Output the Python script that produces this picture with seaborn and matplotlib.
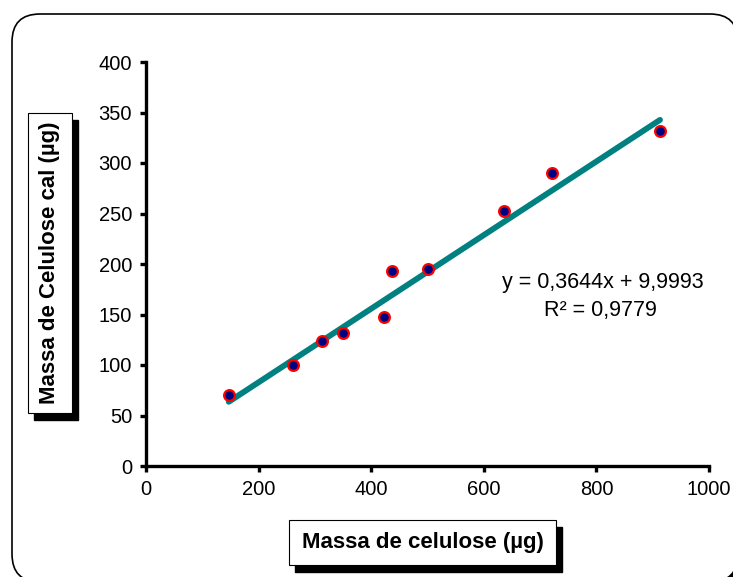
import numpy as np
import pandas as pd
import matplotlib
matplotlib.use("Agg")
import matplotlib.pyplot as plt
from matplotlib.patches import FancyBboxPatch, Rectangle
from matplotlib.transforms import IdentityTransform
import seaborn as sns

# ---- data ----
massa_celulose = [147, 261, 313, 350, 423, 437, 501, 636, 721, 913]
massa_calc = [70, 100, 124, 132, 148, 193, 195, 252, 290, 332]
slope = 0.3644
intercept = 9.9993
r2 = 0.9779
x_ticks = [0, 200, 400, 600, 800, 1000]
y_ticks = [0, 50, 100, 150, 200, 250, 300, 350, 400]
xlabel = "Massa de celulose (µg)"
ylabel = "Massa de Celulose cal (µg)"

sns.set_style("ticks")
plt.rcParams['font.family'] = ['Liberation Sans', 'DejaVu Sans']

W, H = 733, 577
fig = plt.figure(figsize=(W / 100, H / 100), dpi=100)
fig.patch.set_facecolor("white")

# rounded outer frame with shadow (pixel coords)
def px_patch(x, y_top, w, h, **kw):
    return FancyBboxPatch((x, H - y_top - h), w, h, transform=IdentityTransform(), **kw)

fig.patches.append(px_patch(18, 20, 726, 568, boxstyle="round,pad=0,rounding_size=28",
                            facecolor="black", edgecolor="black", zorder=0))
fig.patches.append(px_patch(12, 14, 726, 568, boxstyle="round,pad=0,rounding_size=28",
                            facecolor="white", edgecolor="black", linewidth=1.2, zorder=1))

ax = fig.add_axes([146 / W, 1 - 466 / H, (709 - 146) / W, (466 - 62) / H])
ax.set_facecolor("none")
ax.set_zorder(5)

df = pd.DataFrame({"x": massa_celulose, "y": massa_calc})
line_x = np.array([min(massa_celulose), max(massa_celulose)])
line_df = pd.DataFrame({"x": line_x, "y": slope * line_x + intercept})

sns.lineplot(data=line_df, x="x", y="y", ax=ax, color="#008080", linewidth=4.2, zorder=2)
sns.scatterplot(data=df, x="x", y="y", ax=ax, s=60, color="#000080", edgecolor="#FF0000",
                linewidth=1.6, zorder=3)

ax.set_xlim(0, 1000)
ax.set_ylim(0, 400)
ax.set_xticks(x_ticks)
ax.set_yticks(y_ticks)
ax.set_xlabel("")
ax.set_ylabel("")
sns.despine(ax=ax)
for s in ["left", "bottom"]:
    ax.spines[s].set_linewidth(2.4)
    ax.spines[s].set_color("black")
ax.tick_params(axis="both", direction="out", length=4, width=2.4, labelsize=14.5,
               colors="black", pad=6)
for lbl in ax.get_xticklabels() + ax.get_yticklabels():
    lbl.set_color("black")

ax.text(812, 182, f"y = {str(slope).replace('.', ',')}x + {str(intercept).replace('.', ',')}",
        ha="center", va="center", fontsize=15.5, color="black")
ax.text(808, 154, "R² = " + str(r2).replace('.', ','), ha="center", va="center",
        fontsize=15.5, color="black")

# label boxes with shadow
def label_box(x0, y_top, w, h, text, rot):
    fig.patches.append(Rectangle((x0 + 6, H - y_top - h - 7), w, h, transform=IdentityTransform(),
                                 facecolor="black", edgecolor="black", zorder=2))
    fig.patches.append(Rectangle((x0, H - y_top - h), w, h, transform=IdentityTransform(),
                                 facecolor="white", edgecolor="black", linewidth=0.8, zorder=3))
    fig.text((x0 + w / 2) / W, 1 - (y_top + h / 2) / H, text, rotation=rot, ha="center",
             va="center", fontsize=16, fontweight="bold", color="black", zorder=4)

label_box(289, 520, 267, 45, xlabel, 0)
label_box(28, 113, 44, 300, ylabel, 90)

fig.savefig("out.png", dpi=100)
